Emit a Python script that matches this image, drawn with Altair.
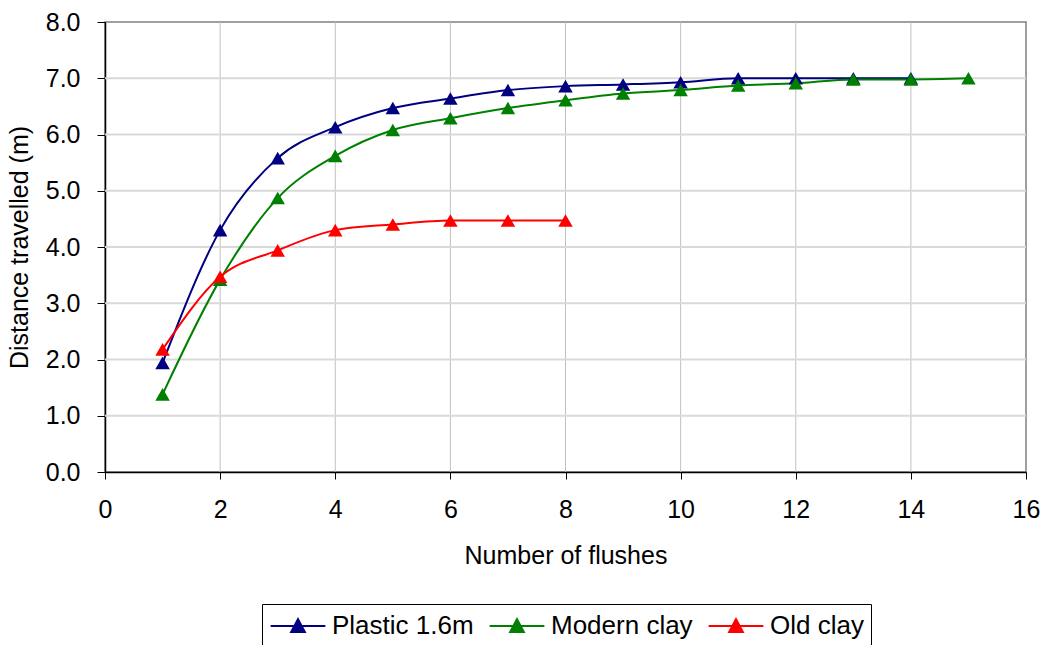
import altair as alt
import pandas as pd

series_names = ["Plastic 1.6m", "Modern clay", "Old clay"]
series_colors = ["#000080", "#008000", "#FF0000"]

flushes_plastic = [1, 2, 3, 4, 5, 6, 7, 8, 9, 10, 11, 12, 13, 14]
plastic = [1.94, 4.30, 5.58, 6.13, 6.47, 6.64, 6.79, 6.86, 6.89, 6.93, 7.0, 7.0, 7.0, 7.0]

flushes_modern = [1, 2, 3, 4, 5, 6, 7, 8, 9, 10, 11, 12, 13, 14, 15]
modern = [1.38, 3.42, 4.87, 5.62, 6.08, 6.29, 6.47, 6.61, 6.73, 6.79, 6.87, 6.91, 6.98, 6.98, 7.0]

flushes_old = [1, 2, 3, 4, 5, 6, 7, 8]
old = [2.18, 3.47, 3.94, 4.30, 4.40, 4.47, 4.47, 4.47]

x_ticks = [0, 2, 4, 6, 8, 10, 12, 14, 16]
y_ticks = [0, 1, 2, 3, 4, 5, 6, 7, 8]

rows = []
for name, xs, ys in zip(series_names, [flushes_plastic, flushes_modern, flushes_old], [plastic, modern, old]):
    for i, (xv, yv) in enumerate(zip(xs, ys)):
        rows.append({"series": name, "flushes": xv, "distance": yv, "order": i})
df = pd.DataFrame(rows)

FONT = "Liberation Sans"
FS = 25

color = alt.Color(
    "series:N",
    scale=alt.Scale(domain=series_names, range=series_colors),
    legend=alt.Legend(
        title=None,
        orient="none",
        direction="horizontal",
        legendX=157,
        legendY=582,
        strokeColor="#000000",
        padding=7,
        columnPadding=11,
        labelOffset=19,
        symbolOffset=14,
        labelFont=FONT,
        labelFontSize=26,
        labelColor="#000000",
        symbolType="M-2,0H2M-0.5,0.44L0,-0.5L0.5,0.44Z",
        symbolSize=750,
        symbolStrokeWidth=2,
        symbolOpacity=1,
    ),
)

x = alt.X(
    "flushes:Q",
    scale=alt.Scale(domain=[0, 16], nice=False, zero=False),
    axis=alt.Axis(
        title="Number of flushes",
        values=x_ticks,
        format="d",
        tickSize=7,
        labelPadding=18,
        labelFlush=False,
        titleY=83,
        titleBaseline="middle",
    ),
)
y = alt.Y(
    "distance:Q",
    scale=alt.Scale(domain=[0, 8], nice=False),
    axis=alt.Axis(
        title="Distance travelled (m)",
        values=y_ticks,
        format=".1f",
        tickSize=8,
        labelPadding=17,
        labelFlush=False,
        titleX=-86,
        titleY=225,
        titleAngle=-90,
        titleAlign="center",
        titleBaseline="middle",
    ),
)

base = alt.Chart(df)

lines = base.mark_line(interpolate="monotone", strokeWidth=2).encode(
    x=x, y=y, color=color, order="order:Q", detail="series:N"
)
points = base.mark_point(shape="triangle-up", filled=True, size=210, opacity=1).encode(
    x=x, y=y, color=color
)

vgrid = alt.Chart(pd.DataFrame({"v": x_ticks[1:-1]})).mark_rule(color="#c0c0c0", strokeWidth=1).encode(
    x=alt.X("v:Q", scale=alt.Scale(domain=[0, 16], nice=False))
)
hgrid = alt.Chart(pd.DataFrame({"v": y_ticks[1:-1]})).mark_rule(color="#d9d9d9", strokeWidth=2).encode(
    y=alt.Y("v:Q", scale=alt.Scale(domain=[0, 8], nice=False))
)

chart = (
    alt.layer(vgrid, hgrid, lines, points)
    .properties(
        width=921,
        height=450,
        background="#ffffff",
        autosize=alt.AutoSizeParams(type="none"),
        padding={"left": 105, "top": 22, "right": 19, "bottom": 173},
    )
    .configure_view(stroke="#808080", strokeWidth=1.5)
    .configure_legend(strokeWidth=1)
    .configure_axis(
        grid=False,
        domainColor="#000000",
        domainWidth=1.5,
        tickColor="#000000",
        tickWidth=1,
        labelFont=FONT,
        labelFontSize=FS,
        labelColor="#000000",
        titleFont=FONT,
        titleFontSize=FS,
        titleFontWeight="normal",
        titleColor="#000000",
    )
)

chart.save("out.html", embed_options={"renderer": "svg", "actions": False})
